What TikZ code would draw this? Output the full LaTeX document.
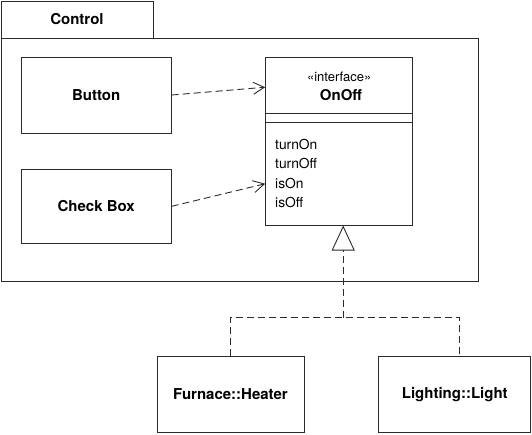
\documentclass[tikz,border=0pt]{standalone}
\usepackage{fontspec}
\setmainfont{TeX Gyre Heros}
\usepackage{tikz}
\usetikzlibrary{arrows.meta,calc}
\definecolor{ink}{HTML}{2B2B2B}
\tikzset{
  box/.style={draw=ink,line width=1pt,inner sep=0pt,font=\fontsize{15}{18}\selectfont\bfseries,text=black},
  dep/.style={draw=ink,line width=0.9pt,dash pattern=on 7pt off 4pt,-{Straight Barb[length=11pt,width=12pt,line width=0.9pt]}},
  real/.style={draw=ink,line width=0.9pt,dash pattern=on 7pt off 4pt},
  op/.style={anchor=west,inner sep=0pt,font=\fontsize{13.8}{16}\selectfont,text=black}
}

\begin{document}
\begin{tikzpicture}[x=1pt,y=-1pt]
  \useasboundingbox (0,0) rectangle (532,434);
  % package Control
  \node[box,minimum width=152pt,minimum height=37pt] (tab) at (77,19.5) {Control};
  \node[box,minimum width=477pt,minimum height=243pt] (pkg) at (239.8,159.5) {};
  % classes inside the package
  \node[box,minimum width=150pt,minimum height=76pt] (button) at (96.2,95) {Button};
  \node[box,minimum width=150pt,minimum height=74pt] (checkbox) at (96.2,206.3) {Check Box};
  \node[box,minimum width=147pt,minimum height=168pt] (onoff) at (339.2,141) {};
  \node[font=\fontsize{13}{15}\selectfont,text=black,inner sep=0pt] (stereo) at (339.2,76.5) {«interface»};
  \node[font=\fontsize{15}{18}\selectfont\bfseries,text=black,inner sep=0pt] (name) at (341,95.5) {OnOff};
  \draw[ink,line width=1pt] ($(onoff.north west)+(0,57)$) -- ($(onoff.north east)+(0,57)$);
  \draw[ink,line width=1pt] ($(onoff.north west)+(0,66)$) -- ($(onoff.north east)+(0,66)$);
  \foreach \y/\lab in {144/turnOn,163/turnOff,183/isOn,202/isOff}{
    \node[op] at (275,\y) {\lab};
  }
  % dependencies
  \draw[dep] (button.east) -- (onoff.144);
  \draw[dep] (checkbox.east) -- (onoff.210);
  % implementing classes
  \node[box,minimum width=147pt,minimum height=76pt] (heater) at (230.5,394.5) {Furnace::Heater};
  \node[box,minimum width=152pt,minimum height=76pt] (light) at (454.8,394.5) {Lighting::Light};
  % realization
  \coordinate (tip) at ($(onoff.south)+(4,0)$);
  \coordinate (fork) at ($(tip)+(0,92)$);
  \draw[real,-{Triangle[open,length=25pt,width=23pt,line width=0.9pt]}] (fork) -- (tip);
  \draw[real] (heater.north) |- (fork) -| ([xshift=5pt]light.north);
\end{tikzpicture}
\end{document}
